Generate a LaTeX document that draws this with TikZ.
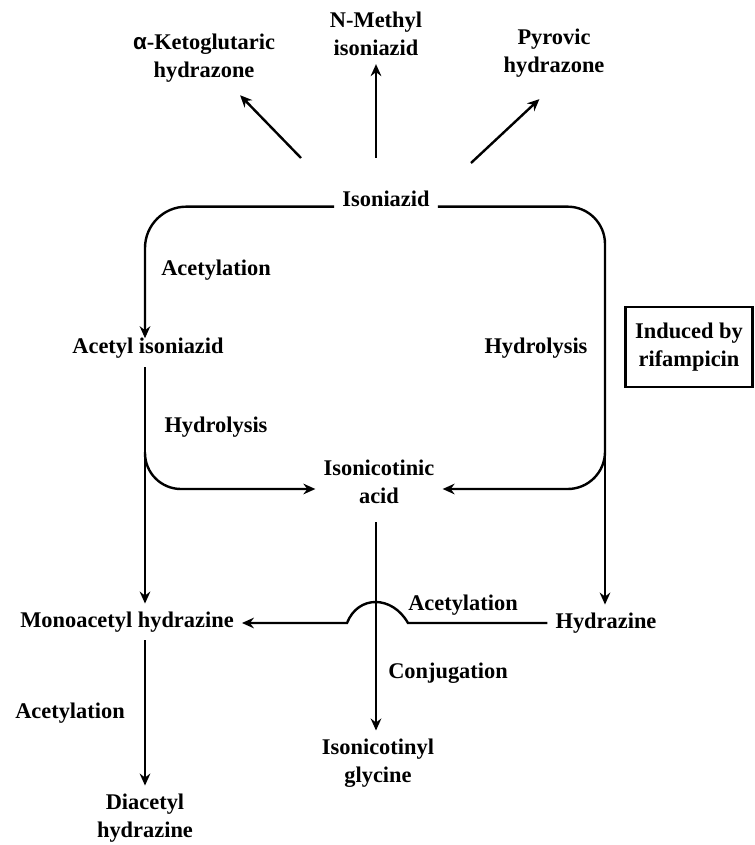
\documentclass[tikz,border=0pt]{standalone}
\usepackage{amsmath,amssymb,mathtools}
\usepackage{fontspec}
\setmainfont{Liberation Serif}
\newfontfamily\alphfont{Liberation Sans}
\usepackage{tikz}
\usepackage{xcolor}
\usetikzlibrary{arrows.meta}

\begin{document}
\begin{tikzpicture}[x=0.75pt,y=0.75pt,yscale=-1,xscale=1,
	lbl/.style={font=\bfseries\fontsize{16.8}{21}\selectfont,align=center,inner sep=6pt},
	flow/.style={line width=1.8pt,-{Stealth[length=9pt,width=8pt,inset=3pt]}}]
	\useasboundingbox (0,0) rectangle (754,845);
	
	% Text Node
	\node [lbl] (keto) at (204,58) {{\alphfont α}-Ketoglutaric\\hydrazone};
	% Text Node
	\node [lbl] (nmeth) at (376,34) {N-Methyl\\isoniazid};
	% Text Node
	\node [lbl] (pyro) at (554,53) {Pyrovic\\hydrazone};
	% Text Node
	\node [lbl] (iso) at (386,199) {Isoniazid};
	% Text Node
	\node [lbl] (acetiso) at (148,348) {Acetyl isoniazid};
	% Text Node
	\node [lbl] (acid) at (379,482) {Isonicotinic\\acid};
	% Text Node
	\node [lbl] (hydra) at (606,623) {Hydrazine};
	% Text Node
	\node [lbl] (mono) at (127,622) {Monoacetyl hydrazine};
	% Text Node
	\node [lbl] (diacet) at (145,818) {Diacetyl\\hydrazine};
	% Text Node
	\node [lbl] (glycine) at (378,763) {Isonicotinyl\\glycine};
	% Shape: Rectangle
	\node [lbl,draw,line width=1.8pt,minimum width=95pt,minimum height=60pt] (rif) at (689,347) {Induced by\\rifampicin};
	
	% Text Node
	\node [lbl] (acet1) at (216,270) {Acetylation};
	% Text Node
	\node [lbl] (hydroL) at (216,427) {Hydrolysis};
	% Text Node
	\node [lbl] (hydroR) at (536,348) {Hydrolysis};
	% Text Node
	\node [lbl] (acet2) at (463,605) {Acetylation};
	% Text Node
	\node [lbl] (conj) at (448,673) {Conjugation};
	% Text Node
	\node [lbl] (acet3) at (70,713) {Acetylation};
	
	\coordinate (tk) at (301,158);
	\coordinate (tm) at (376,158);
	\coordinate (tp) at (471,163);
	\coordinate (lcol) at (145,367);
	\coordinate (lsplit) at (145,452);
	\coordinate (rsplit) at (605,452);
	\coordinate (rbend) at (605,489);
	\coordinate (acol) at (376,522);
	\coordinate (arow) at (376,489);
	\coordinate (humpR) at (408,623);
	\coordinate (humpL) at (347,623);
	
	%Straight Lines
	\draw [flow,shorten >=5pt] (tk) -- (keto);
	\draw [flow] (tm) -- (tm |- nmeth.south);
	\draw [flow,shorten >=15pt] (tp) -- (pyro.south);
	%Loop
	\draw [flow,rounded corners=31pt,shorten >=-6.5pt] (iso.base west) -| (lcol |- acetiso.north);
	\draw [flow,rounded corners=28pt] (iso.base east) -| (rbend) -- (acid.east |- arow);
	\draw [flow] (lcol) -- (lcol |- mono.north);
	\draw [flow,rounded corners=27pt] (lsplit) |- (acid.west |- arow);
	\draw [flow] (rsplit) -- (rsplit |- hydra.north);
	%Straight Lines
	\draw [flow] (acol) -- (acol |- glycine.north);
	\draw [flow] (hydra.west |- humpR) -- (humpR) .. controls (392,595) and (358,595) .. (humpL) -- (mono.east |- humpL);
	\draw [flow] (lcol |- mono.south) -- (lcol |- diacet.north);
\end{tikzpicture}
\end{document}
